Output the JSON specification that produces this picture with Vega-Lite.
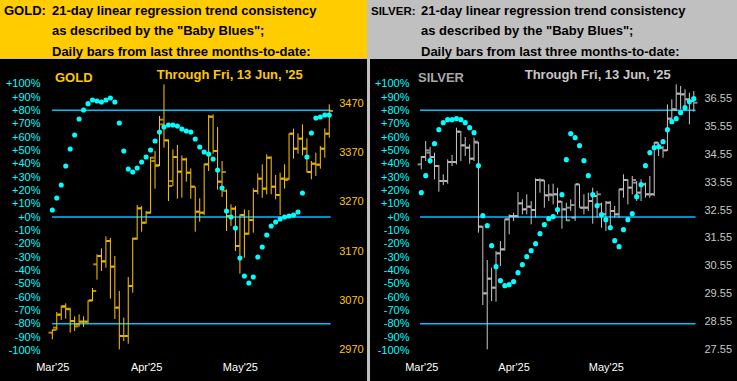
{
"$schema": "https://vega.github.io/schema/vega-lite/v6.json",
"background": "#C0C0C0",
"padding": 0,
"spacing": 3,
"config": {"view": {"stroke": null}, "axis": {"labelFont": "Liberation Sans", "grid": false, "domain": false, "ticks": false, "labelOverlap": false}, "text": {"font": "Liberation Sans"}},
"datasets": {
"gold": [
{"i":0,"o":3004.5,"h":3011.2,"l":2991.0,"c":3009.9,"bb":5.25},
{"i":1,"o":3014.6,"h":3046.4,"l":3009.2,"c":3040.3,"bb":14.25},
{"i":2,"o":3041.6,"h":3059.9,"l":3030.2,"c":3056.5,"bb":24},
{"i":3,"o":3058.5,"h":3063.9,"l":3032.9,"c":3053.1,"bb":38.25},
{"i":4,"o":3051.8,"h":3055.2,"l":3004.5,"c":3028.1,"bb":51},
{"i":5,"o":3028.1,"h":3037.6,"l":3007.9,"c":3017.3,"bb":61.5},
{"i":6,"o":3021.4,"h":3041.6,"l":3016.6,"c":3026.8,"bb":73.5},
{"i":7,"o":3026.8,"h":3037.6,"l":3016.0,"c":3026.8,"bb":80.25},
{"i":8,"o":3026.8,"h":3070.0,"l":3023.4,"c":3069.4,"bb":85},
{"i":9,"o":3070.0,"h":3095.0,"l":3068.7,"c":3088.9,"bb":87.75},
{"i":10,"o":3143.0,"h":3163.3,"l":3111.9,"c":3159.9,"bb":87},
{"i":11,"o":3159.9,"h":3175.4,"l":3129.5,"c":3148.4,"bb":86.25},
{"i":12,"o":3149.7,"h":3199.7,"l":3136.2,"c":3190.3,"bb":87.75},
{"i":13,"o":3190.3,"h":3196.4,"l":3073.4,"c":3138.3,"bb":89.25},
{"i":14,"o":3138.3,"h":3159.9,"l":3032.2,"c":3055.2,"bb":86.25},
{"i":15,"o":3055.2,"h":3088.9,"l":2970.7,"c":2997.7,"bb":70.5},
{"i":16,"o":2997.7,"h":3034.9,"l":2987.6,"c":2997.7,"bb":49.5},
{"i":17,"o":2997.7,"h":3117.3,"l":2982.2,"c":3099.1,"bb":36},
{"i":18,"o":3099.1,"h":3197.0,"l":3085.6,"c":3195.0,"bb":33.75},
{"i":19,"o":3195.0,"h":3263.2,"l":3193.0,"c":3256.5,"bb":36.75},
{"i":20,"o":3256.5,"h":3261.2,"l":3209.2,"c":3227.4,"bb":41.25},
{"i":21,"o":3227.4,"h":3251.1,"l":3225.4,"c":3247.7,"bb":45},
{"i":22,"o":3247.7,"h":3360.5,"l":3246.0,"c":3359.2,"bb":50.25},
{"i":23,"o":3352.4,"h":3372.7,"l":3296.4,"c":3342.3,"bb":57},
{"i":24,"o":3344.3,"h":3443.6,"l":3342.0,"c":3436.2,"bb":63.75},
{"i":25,"o":3426.7,"h":3507.8,"l":3379.4,"c":3394.3,"bb":67.5},
{"i":26,"o":3394.3,"h":3396.3,"l":3271.4,"c":3301.8,"bb":69},
{"i":27,"o":3311.9,"h":3376.1,"l":3301.8,"c":3360.5,"bb":69},
{"i":28,"o":3360.5,"h":3384.9,"l":3276.1,"c":3330.8,"bb":68.25},
{"i":29,"o":3330.8,"h":3363.9,"l":3278.1,"c":3355.8,"bb":66},
{"i":30,"o":3355.8,"h":3359.2,"l":3310.5,"c":3328.8,"bb":64.5},
{"i":31,"o":3328.8,"h":3337.5,"l":3276.1,"c":3300.4,"bb":63.75},
{"i":32,"o":3300.4,"h":3300.4,"l":3209.2,"c":3249.7,"bb":58.5},
{"i":33,"o":3249.7,"h":3276.8,"l":3229.5,"c":3247.7,"bb":52.5},
{"i":34,"o":3247.7,"h":3347.0,"l":3243.0,"c":3345.7,"bb":48.75},
{"i":35,"o":3345.7,"h":3445.7,"l":3332.2,"c":3442.3,"bb":47.25},
{"i":36,"o":3442.3,"h":3447.0,"l":3367.3,"c":3372.7,"bb":43.5},
{"i":37,"o":3372.7,"h":3421.3,"l":3294.3,"c":3310.5,"bb":35.25},
{"i":38,"o":3310.5,"h":3352.4,"l":3279.5,"c":3330.1,"bb":21.75},
{"i":39,"o":3292.0,"h":3295.0,"l":3210.5,"c":3241.0,"bb":4.5},
{"i":40,"o":3241.0,"h":3264.6,"l":3220.7,"c":3255.8,"bb":0},
{"i":41,"o":3255.8,"h":3261.2,"l":3170.0,"c":3180.2,"bb":-8.25},
{"i":42,"o":3180.2,"h":3244.3,"l":3124.1,"c":3243.0,"bb":-30.75},
{"i":43,"o":3243.0,"h":3254.5,"l":3156.5,"c":3205.1,"bb":-44.25},
{"i":44,"o":3205.1,"h":3253.1,"l":3203.0,"c":3232.8,"bb":-49.5},
{"i":45,"o":3232.8,"h":3297.0,"l":3207.2,"c":3291.6,"bb":-45},
{"i":46,"o":3291.6,"h":3327.4,"l":3284.9,"c":3316.6,"bb":-30},
{"i":47,"o":3316.6,"h":3345.7,"l":3278.1,"c":3296.4,"bb":-22.5},
{"i":48,"o":3296.4,"h":3366.0,"l":3284.9,"c":3359.2,"bb":-13.5},
{"i":49,"o":3359.2,"h":3362.0,"l":3284.9,"c":3300.4,"bb":-6.75},
{"i":50,"o":3300.4,"h":3324.1,"l":3274.7,"c":3283.5,"bb":-3.75},
{"i":51,"o":3283.5,"h":3328.8,"l":3243.0,"c":3316.6,"bb":-1.5},
{"i":52,"o":3316.6,"h":3345.7,"l":3296.4,"c":3313.9,"bb":0},
{"i":53,"o":3316.6,"h":3408.5,"l":3314.0,"c":3407.8,"bb":0.75},
{"i":54,"o":3407.8,"h":3418.0,"l":3357.2,"c":3377.4,"bb":1.5},
{"i":55,"o":3377.4,"h":3408.5,"l":3367.3,"c":3397.7,"bb":3.75},
{"i":56,"o":3397.7,"h":3426.7,"l":3363.9,"c":3377.4,"bb":18},
{"i":57,"o":3377.4,"h":3398.4,"l":3328.8,"c":3330.1,"bb":45},
{"i":58,"o":3330.1,"h":3352.4,"l":3315.3,"c":3347.0,"bb":63},
{"i":59,"o":3347.0,"h":3369.3,"l":3322.0,"c":3345.0,"bb":74.25},
{"i":60,"o":3345.0,"h":3382.8,"l":3336.9,"c":3377.4,"bb":75},
{"i":61,"o":3377.4,"h":3418.6,"l":3359.2,"c":3407.8,"bb":76.5},
{"i":62,"o":3407.8,"h":3467.3,"l":3399.7,"c":3453.8,"bb":76.5}
],
"silver": [
{"i":0,"o":34.181,"h":34.478,"l":34.002,"c":34.443,"bb":18.25},
{"i":1,"o":34.443,"h":35.014,"l":34.300,"c":34.681,"bb":31},
{"i":2,"o":34.598,"h":34.800,"l":34.205,"c":34.443,"bb":42.25},
{"i":3,"o":34.443,"h":34.598,"l":33.645,"c":34.121,"bb":55},
{"i":4,"o":34.121,"h":34.157,"l":33.205,"c":33.586,"bb":65.5},
{"i":5,"o":33.586,"h":33.824,"l":33.443,"c":33.586,"bb":70.75},
{"i":6,"o":33.586,"h":34.359,"l":33.490,"c":34.264,"bb":73},
{"i":7,"o":34.264,"h":34.514,"l":34.121,"c":34.264,"bb":73},
{"i":8,"o":34.264,"h":35.490,"l":34.181,"c":35.348,"bb":73.75},
{"i":9,"o":35.348,"h":35.371,"l":34.300,"c":34.859,"bb":73},
{"i":10,"o":34.859,"h":35.157,"l":34.479,"c":34.776,"bb":70.75},
{"i":11,"o":34.776,"h":34.895,"l":34.205,"c":34.383,"bb":67},
{"i":12,"o":34.383,"h":35.133,"l":34.300,"c":34.990,"bb":63.25},
{"i":13,"o":34.955,"h":34.978,"l":31.740,"c":31.955,"bb":38.5},
{"i":14,"o":31.955,"h":31.979,"l":29.157,"c":29.574,"bb":1},
{"i":15,"o":29.574,"h":30.764,"l":27.574,"c":30.098,"bb":-6.5},
{"i":16,"o":30.098,"h":30.490,"l":29.300,"c":29.776,"bb":-21.5},
{"i":17,"o":29.776,"h":31.086,"l":29.276,"c":31.002,"bb":-37.25},
{"i":18,"o":31.002,"h":31.443,"l":30.550,"c":31.145,"bb":-47.75},
{"i":19,"o":31.145,"h":32.240,"l":31.100,"c":32.217,"bb":-51.5},
{"i":20,"o":32.217,"h":32.395,"l":31.681,"c":32.336,"bb":-50.75},
{"i":21,"o":32.336,"h":32.455,"l":32.157,"c":32.336,"bb":-48.5},
{"i":22,"o":32.336,"h":33.193,"l":32.276,"c":32.788,"bb":-41.75},
{"i":23,"o":32.788,"h":32.931,"l":32.395,"c":32.574,"bb":-35.75},
{"i":24,"o":32.574,"h":33.110,"l":32.395,"c":32.669,"bb":-29.75},
{"i":25,"o":32.669,"h":32.871,"l":32.038,"c":32.550,"bb":-25.25},
{"i":26,"o":32.550,"h":33.681,"l":32.276,"c":33.621,"bb":-20},
{"i":27,"o":33.621,"h":33.681,"l":33.169,"c":33.610,"bb":-12.5},
{"i":28,"o":33.610,"h":33.621,"l":32.633,"c":33.074,"bb":-5.75},
{"i":29,"o":33.074,"h":33.467,"l":32.871,"c":33.110,"bb":-1.25},
{"i":30,"o":33.074,"h":33.490,"l":32.752,"c":33.110,"bb":0.25},
{"i":31,"o":33.110,"h":33.348,"l":32.395,"c":32.848,"bb":5.5},
{"i":32,"o":32.848,"h":32.871,"l":31.883,"c":32.574,"bb":16.75},
{"i":33,"o":32.574,"h":32.812,"l":32.157,"c":32.181,"bb":43},
{"i":34,"o":32.633,"h":32.931,"l":32.514,"c":32.729,"bb":62.5},
{"i":35,"o":32.276,"h":33.467,"l":32.157,"c":33.467,"bb":59.5},
{"i":36,"o":33.467,"h":33.467,"l":32.633,"c":32.633,"bb":53.5},
{"i":37,"o":32.633,"h":33.110,"l":32.395,"c":32.633,"bb":42.25},
{"i":38,"o":32.633,"h":33.169,"l":32.514,"c":32.871,"bb":31},
{"i":39,"o":32.871,"h":33.348,"l":32.062,"c":33.050,"bb":16.75},
{"i":40,"o":33.050,"h":33.229,"l":32.276,"c":33.110,"bb":8.5},
{"i":41,"o":32.752,"h":32.812,"l":31.919,"c":32.395,"bb":1.75},
{"i":42,"o":32.395,"h":32.871,"l":31.800,"c":32.812,"bb":-2},
{"i":43,"o":32.812,"h":32.871,"l":31.979,"c":32.514,"bb":-8},
{"i":44,"o":32.514,"h":32.693,"l":32.276,"c":32.395,"bb":-17.75},
{"i":45,"o":32.395,"h":33.312,"l":32.276,"c":33.288,"bb":-22.25},
{"i":46,"o":33.288,"h":33.824,"l":32.990,"c":33.621,"bb":-9.5},
{"i":47,"o":33.621,"h":33.645,"l":32.752,"c":33.348,"bb":-2},
{"i":48,"o":33.348,"h":33.764,"l":33.110,"c":33.621,"bb":2.5},
{"i":49,"o":33.526,"h":33.586,"l":32.871,"c":33.169,"bb":15.25},
{"i":50,"o":33.169,"h":33.645,"l":32.871,"c":33.467,"bb":24.25},
{"i":51,"o":33.467,"h":33.526,"l":32.990,"c":33.110,"bb":38.5},
{"i":52,"o":33.110,"h":33.764,"l":32.990,"c":33.110,"bb":48.25},
{"i":53,"o":33.110,"h":34.978,"l":33.050,"c":34.955,"bb":52},
{"i":54,"o":34.955,"h":34.955,"l":34.478,"c":34.776,"bb":52.75},
{"i":55,"o":34.776,"h":34.836,"l":34.419,"c":34.681,"bb":56.5},
{"i":56,"o":34.681,"h":36.324,"l":34.657,"c":35.812,"bb":65.5},
{"i":57,"o":35.812,"h":36.502,"l":35.728,"c":36.145,"bb":71.5},
{"i":58,"o":36.145,"h":37.038,"l":36.086,"c":36.705,"bb":73.75},
{"i":59,"o":36.705,"h":36.979,"l":36.145,"c":36.681,"bb":78.25},
{"i":60,"o":36.681,"h":36.860,"l":36.145,"c":36.502,"bb":82},
{"i":61,"o":36.502,"h":36.740,"l":35.610,"c":36.443,"bb":86.5},
{"i":62,"o":36.443,"h":36.800,"l":36.062,"c":36.383,"bb":88.75}
]
},
"hconcat": [
{
"spacing": 0,
"vconcat": [
{
"width": 367, "height": 58,
"view": {"fill": "#FFCC00", "stroke": null},
"data": {"values": [
{"line": 1, "col": 0, "text": "GOLD:"},
{"line": 1, "col": 1, "text": "21-day linear regression trend consistency"},
{"line": 2, "col": 1, "text": "as described by the \"Baby Blues\";"},
{"line": 3, "col": 1, "text": "Daily bars from last three months-to-date:"}
]},
"mark": {"type": "text", "align": "left", "baseline": "alphabetic", "fontSize": 13, "fontWeight": "bold", "color": "#000000", "font": "Liberation Sans"},
"encoding": {
"x": {"field": "col", "type": "quantitative", "scale": {"domain": [0, 1], "range": [4, 52]}, "axis": null},
"y": {"field": "line", "type": "quantitative", "scale": {"domain": [1, 3], "range": [14.5, 55.5]}, "axis": null},
"text": {"field": "text"}
}
},
{
"width": 367, "height": 323,
"view": {"fill": "#000000", "stroke": null},
"resolve": {"scale": {"y": "independent"}, "axis": {"y": "independent"}},
"layer": [
{
"data": {"values": [{"lv": 80}, {"lv": 0}, {"lv": -80}]},
"mark": {"type": "rule", "color": "#00C0FF", "strokeWidth": 1.5},
"encoding": {
"x": {"datum": -0.05, "type": "quantitative", "scale": {"domain": [-11.71, 70.45], "nice": false, "zero": false},
"axis": {"orient": "bottom", "offset": -20.4, "values": [0, 21, 42], "tickCount": 50, "labelExpr": "datum.value == 0 ? \"Mar'25\" : datum.value == 21 ? \"Apr'25\" : \"May'25\"", "labelColor": "#FFFFFF", "labelFontSize": 11, "labelPadding": 0, "labelFlush": false, "labelOverlap": false, "title": null}},
"x2": {"datum": 62.3},
"y": {"field": "lv", "type": "quantitative", "scale": {"domain": [-123.75, 118.5], "nice": false, "zero": false},
"axis": {"orient": "left", "offset": -43, "values": [-100,-90,-80,-70,-60,-50,-40,-30,-20,-10,0,10,20,30,40,50,60,70,80,90,100], "tickCount": 50, "labelExpr": "(datum.value >= 0 ? '+' : '') + datum.value + '%'", "labelColor": "#00FFFF", "labelFontSize": 11, "labelPadding": 3, "labelOverlap": false, "labelFlush": false, "title": null}}
}
},
{
"data": {"name": "gold"},
"layer": [
{"mark": {"type": "rule", "color": "#FFC800", "strokeWidth": 1},
"encoding": {
"x": {"field": "i", "type": "quantitative", "scale": {"domain": [-11.71, 70.45], "nice": false, "zero": false}},
"y": {"field": "l", "type": "quantitative", "scale": {"domain": [2904.5, 3559.2], "nice": false, "zero": false},
"axis": {"orient": "right", "offset": -30.3, "values": [2970, 3070, 3170, 3270, 3370, 3470], "tickCount": 50, "format": "d", "labelColor": "#FFC800", "labelFontSize": 11, "labelPadding": 2, "labelOverlap": false, "labelFlush": false, "title": null}},
"y2": {"field": "h"}
}},
{"mark": {"type": "tick", "orient": "horizontal", "color": "#FFC800", "size": 3.5, "thickness": 2, "xOffset": -2},
"encoding": {
"x": {"field": "i", "type": "quantitative"},
"y": {"field": "o", "type": "quantitative"}
}},
{"mark": {"type": "tick", "orient": "horizontal", "color": "#FFC800", "size": 3.5, "thickness": 2, "xOffset": 2},
"encoding": {
"x": {"field": "i", "type": "quantitative"},
"y": {"field": "c", "type": "quantitative"}
}}
]
},
{
"layer": [
{"data": {"name": "gold"},
"mark": {"type": "circle", "color": "#00FFFF", "opacity": 1, "size": 26},
"encoding": {
"x": {"field": "i", "type": "quantitative"},
"y": {"field": "bb", "type": "quantitative", "scale": {"domain": [-123.75, 118.5], "nice": false, "zero": false}, "axis": null}
}},
{"data": {"values": [{}]},
"mark": {"type": "text", "align": "left", "baseline": "alphabetic", "fontSize": 13, "fontWeight": "bold", "color": "#FFC800", "font": "Liberation Sans"},
"encoding": {
"x": {"datum": 0.6, "type": "quantitative"},
"y": {"datum": 101.25, "type": "quantitative"},
"text": {"value": "GOLD"}
}},
{"data": {"values": [{}]},
"mark": {"type": "text", "align": "left", "baseline": "alphabetic", "fontSize": 13, "fontWeight": "bold", "color": "#FFC800", "font": "Liberation Sans"},
"encoding": {
"x": {"datum": 23.37, "type": "quantitative"},
"y": {"datum": 103.3, "type": "quantitative"},
"text": {"value": "Through Fri, 13 Jun, '25"}
}}
]
}
]
}
]
},
{
"spacing": 0,
"vconcat": [
{
"width": 367, "height": 58,
"view": {"fill": "#C0C0C0", "stroke": null},
"layer": [
{
"data": {"values": [{"line": 1, "col": 0, "text": "SILVER:"}]},
"mark": {"type": "text", "align": "left", "baseline": "alphabetic", "fontSize": 11.5, "fontWeight": "bold", "color": "#000000", "font": "Liberation Sans"},
"encoding": {
"x": {"field": "col", "type": "quantitative", "scale": {"domain": [0, 1], "range": [1, 51]}, "axis": null},
"y": {"field": "line", "type": "quantitative", "scale": {"domain": [1, 3], "range": [14.5, 55.5]}, "axis": null},
"text": {"field": "text"}
}
},
{
"data": {"values": [
{"line": 1, "col": 1, "text": "21-day linear regression trend consistency"},
{"line": 2, "col": 1, "text": "as described by the \"Baby Blues\";"},
{"line": 3, "col": 1, "text": "Daily bars from last three months-to-date:"}
]},
"mark": {"type": "text", "align": "left", "baseline": "alphabetic", "fontSize": 13, "fontWeight": "bold", "color": "#000000", "font": "Liberation Sans"},
"encoding": {
"x": {"field": "col", "type": "quantitative"},
"y": {"field": "line", "type": "quantitative"},
"text": {"field": "text"}
}
}
]
},
{
"width": 367, "height": 323,
"view": {"fill": "#000000", "stroke": null},
"resolve": {"scale": {"y": "independent"}, "axis": {"y": "independent"}},
"layer": [
{
"data": {"values": [{"lv": 80}, {"lv": 0}, {"lv": -80}]},
"mark": {"type": "rule", "color": "#00C0FF", "strokeWidth": 1.5},
"encoding": {
"x": {"datum": -0.3, "type": "quantitative", "scale": {"domain": [-11.67, 71.83], "nice": false, "zero": false},
"axis": {"orient": "bottom", "offset": -20.4, "values": [0, 21, 42], "tickCount": 50, "labelExpr": "datum.value == 0 ? \"Mar'25\" : datum.value == 21 ? \"Apr'25\" : \"May'25\"", "labelColor": "#FFFFFF", "labelFontSize": 11, "labelPadding": 0, "labelFlush": false, "labelOverlap": false, "title": null}},
"x2": {"datum": 62.4},
"y": {"field": "lv", "type": "quantitative", "scale": {"domain": [-123.75, 118.5], "nice": false, "zero": false},
"axis": {"orient": "left", "offset": -42, "values": [-100,-90,-80,-70,-60,-50,-40,-30,-20,-10,0,10,20,30,40,50,60,70,80,90,100], "tickCount": 50, "labelExpr": "(datum.value >= 0 ? '+' : '') + datum.value + '%'", "labelColor": "#00FFFF", "labelFontSize": 11, "labelPadding": 3, "labelOverlap": false, "labelFlush": false, "title": null}}
}
},
{
"data": {"name": "silver"},
"layer": [
{"mark": {"type": "rule", "color": "#C8C8C8", "strokeWidth": 1},
"encoding": {
"x": {"field": "i", "type": "quantitative", "scale": {"domain": [-11.67, 71.83], "nice": false, "zero": false}},
"y": {"field": "l", "type": "quantitative", "scale": {"domain": [26.407, 37.943], "nice": false, "zero": false},
"axis": {"orient": "right", "offset": -35, "values": [27.55, 28.55, 29.55, 30.55, 31.55, 32.55, 33.55, 34.55, 35.55, 36.55], "tickCount": 50, "format": ".2f", "labelColor": "#C8C8C8", "labelFontSize": 11, "labelPadding": 2, "labelOverlap": false, "labelFlush": false, "title": null}},
"y2": {"field": "h"}
}},
{"mark": {"type": "tick", "orient": "horizontal", "color": "#C8C8C8", "size": 3.5, "thickness": 2, "xOffset": -2},
"encoding": {
"x": {"field": "i", "type": "quantitative"},
"y": {"field": "o", "type": "quantitative"}
}},
{"mark": {"type": "tick", "orient": "horizontal", "color": "#C8C8C8", "size": 3.5, "thickness": 2, "xOffset": 2},
"encoding": {
"x": {"field": "i", "type": "quantitative"},
"y": {"field": "c", "type": "quantitative"}
}}
]
},
{
"layer": [
{"data": {"name": "silver"},
"mark": {"type": "circle", "color": "#00FFFF", "opacity": 1, "size": 26},
"encoding": {
"x": {"field": "i", "type": "quantitative"},
"y": {"field": "bb", "type": "quantitative", "scale": {"domain": [-123.75, 118.5], "nice": false, "zero": false}, "axis": null}
}},
{"data": {"values": [{}]},
"mark": {"type": "text", "align": "left", "baseline": "alphabetic", "fontSize": 13, "fontWeight": "bold", "color": "#A8A8A8", "font": "Liberation Sans"},
"encoding": {
"x": {"datum": -0.75, "type": "quantitative"},
"y": {"datum": 101.5, "type": "quantitative"},
"text": {"value": "SILVER"}
}},
{"data": {"values": [{}]},
"mark": {"type": "text", "align": "left", "baseline": "alphabetic", "fontSize": 13, "fontWeight": "bold", "color": "#C8C8C8", "font": "Liberation Sans"},
"encoding": {
"x": {"datum": 23.53, "type": "quantitative"},
"y": {"datum": 103.5, "type": "quantitative"},
"text": {"value": "Through Fri, 13 Jun, '25"}
}}
]
}
]
}
]
}
]
}
